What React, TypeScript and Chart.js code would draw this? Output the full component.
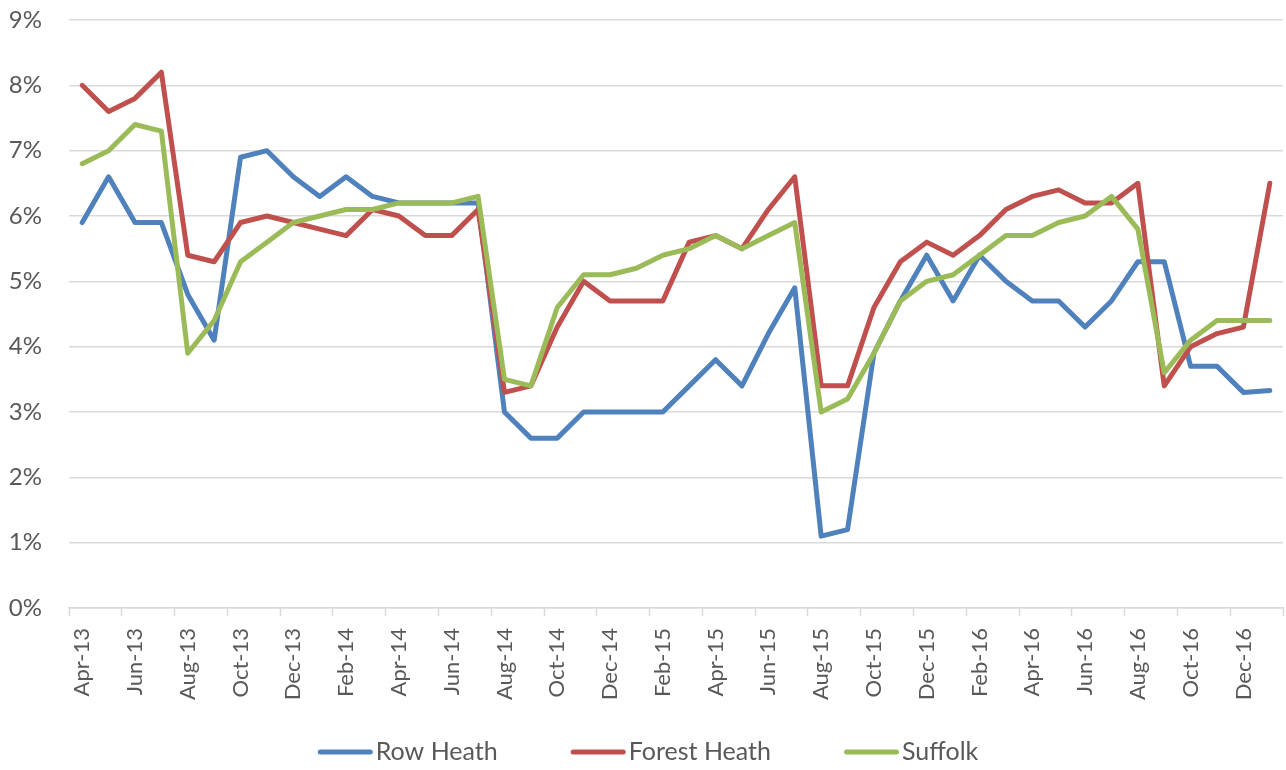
import React, { useEffect, useRef } from "react";
import { Chart, registerables } from "chart.js";

Chart.register(...registerables);

const categories = [
  "Apr-13", "May-13", "Jun-13", "Jul-13", "Aug-13", "Sep-13", "Oct-13", "Nov-13", "Dec-13",
  "Jan-14", "Feb-14", "Mar-14", "Apr-14", "May-14", "Jun-14", "Jul-14", "Aug-14", "Sep-14", "Oct-14", "Nov-14", "Dec-14",
  "Jan-15", "Feb-15", "Mar-15", "Apr-15", "May-15", "Jun-15", "Jul-15", "Aug-15", "Sep-15", "Oct-15", "Nov-15", "Dec-15",
  "Jan-16", "Feb-16", "Mar-16", "Apr-16", "May-16", "Jun-16", "Jul-16", "Aug-16", "Sep-16", "Oct-16", "Nov-16", "Dec-16",
  "Jan-17",
];

const rowHeath = [
  5.9, 6.6, 5.9, 5.9, 4.8, 4.1, 6.9, 7.0, 6.6, 6.3, 6.6, 6.3, 6.2, 6.2, 6.2, 6.2,
  3.0, 2.6, 2.6, 3.0, 3.0, 3.0, 3.0, 3.4, 3.8, 3.4, 4.2, 4.9, 1.1, 1.2, 3.9,
  4.7, 5.4, 4.7, 5.4, 5.0, 4.7, 4.7, 4.3, 4.7, 5.3, 5.3, 3.7, 3.7, 3.3, 3.33,
];

const forestHeath = [
  8.0, 7.6, 7.8, 8.2, 5.4, 5.3, 5.9, 6.0, 5.9, 5.8, 5.7, 6.1, 6.0, 5.7, 5.7, 6.1,
  3.3, 3.4, 4.3, 5.0, 4.7, 4.7, 4.7, 5.6, 5.7, 5.5, 6.1, 6.6, 3.4, 3.4, 4.6,
  5.3, 5.6, 5.4, 5.7, 6.1, 6.3, 6.4, 6.2, 6.2, 6.5, 3.4, 4.0, 4.2, 4.3, 6.5,
];

const suffolk = [
  6.8, 7.0, 7.4, 7.3, 3.9, 4.4, 5.3, 5.6, 5.9, 6.0, 6.1, 6.1, 6.2, 6.2, 6.2, 6.3,
  3.5, 3.4, 4.6, 5.1, 5.1, 5.2, 5.4, 5.5, 5.7, 5.5, 5.7, 5.9, 3.0, 3.2, 3.9,
  4.7, 5.0, 5.1, 5.4, 5.7, 5.7, 5.9, 6.0, 6.3, 5.8, 3.6, 4.1, 4.4, 4.4, 4.4,
];

const seriesNames = ["Row Heath", "Forest Heath", "Suffolk"];
const seriesColors = ["#4f81bd", "#c0504d", "#9bbb59"];

const yTickValues = [0, 1, 2, 3, 4, 5, 6, 7, 8, 9];

const TEXT = "#595959";
const GRID = "#d9d9d9";
const FONT = "Lato, 'Open Sans', sans-serif";

const bottomLegend = {
  id: "bottomLegend",
  afterDraw(chart: any) {
    const ctx = chart.ctx;
    const datasets = chart.data.datasets;
    const lineLen = 55;
    const gap = 3;
    const spacing = 73;
    ctx.save();
    ctx.font = `25px ${FONT}`;
    const widths = datasets.map((d: any) => ctx.measureText(d.label).width);
    let total = 0;
    widths.forEach((w: number, i: number) => {
      total += lineLen + gap + w + (i < widths.length - 1 ? spacing : 0);
    });
    let x = 648 - total / 2;
    const y = 752;
    datasets.forEach((d: any, i: number) => {
      ctx.strokeStyle = d.borderColor;
      ctx.lineWidth = 5;
      ctx.lineCap = "round";
      ctx.beginPath();
      ctx.moveTo(x + 2.5, y);
      ctx.lineTo(x + lineLen - 2.5, y);
      ctx.stroke();
      ctx.fillStyle = TEXT;
      ctx.textAlign = "left";
      ctx.textBaseline = "middle";
      ctx.fillText(d.label, x + lineLen + gap, y);
      x += lineLen + gap + widths[i] + spacing;
    });
    ctx.restore();
  },
};

export default function App() {
  const ref = useRef<HTMLCanvasElement | null>(null);

  useEffect(() => {
    if (!ref.current) return;
    const values = [rowHeath, forestHeath, suffolk];
    const chart = new Chart(ref.current, {
      type: "line",
      data: {
        labels: categories,
        datasets: values.map((v, i) => ({
          label: seriesNames[i],
          data: v,
          borderColor: seriesColors[i],
          backgroundColor: seriesColors[i],
          borderWidth: 5,
          borderCapStyle: "round",
          borderJoinStyle: "round",
          pointRadius: 0,
          tension: 0,
          fill: false,
          order: 3 - i,
        })),
      },
      options: {
        responsive: false,
        animation: false,
        layout: { padding: { top: 20, right: 3, bottom: 62, left: 0 } },
        plugins: {
          legend: { display: false },
          tooltip: { enabled: false },
        },
        scales: {
          x: {
            type: "category",
            offset: true,
            grid: {
              offset: true,
              drawOnChartArea: false,
              drawTicks: true,
              tickLength: 8,
              tickWidth: 1.5,
              tickColor: (c: any) =>
                c.index === undefined || c.index % 2 === 0 ? GRID : "rgba(0,0,0,0)",
            },
            border: { color: GRID, width: 1.5 },
            ticks: {
              autoSkip: false,
              maxRotation: 90,
              minRotation: 90,
              padding: 12,
              color: TEXT,
              font: { family: FONT, size: 22 },
              callback: (_v: any, i: number) => (i % 2 === 0 ? categories[i] : ""),
            },
            afterFit: (s: any) => {
              s.height = 100;
              s.paddingLeft = 0;
              s.paddingRight = 0;
              s.paddingTop = 0;
              s.paddingBottom = 0;
            },
          },
          y: {
            min: yTickValues[0],
            max: yTickValues[yTickValues.length - 1],
            ticks: {
              stepSize: 1,
              padding: 27,
              color: TEXT,
              font: { family: FONT, size: 24 },
              callback: (v: any) => `${v}%`,
            },
            grid: { color: GRID, lineWidth: 1.5, drawTicks: false },
            border: { display: false },
            afterFit: (s: any) => {
              s.width = 69;
              s.paddingLeft = 0;
              s.paddingRight = 0;
              s.paddingTop = 0;
              s.paddingBottom = 0;
            },
          },
        },
      },
      plugins: [bottomLegend],
    });
    return () => chart.destroy();
  }, []);

  return (
    <div style={{ position: "fixed", left: 0, top: 0, width: 1286, height: 770, background: "#fff" }}>
      <canvas ref={ref} width={1286} height={770} style={{ display: "block" }} />
    </div>
  );
}
